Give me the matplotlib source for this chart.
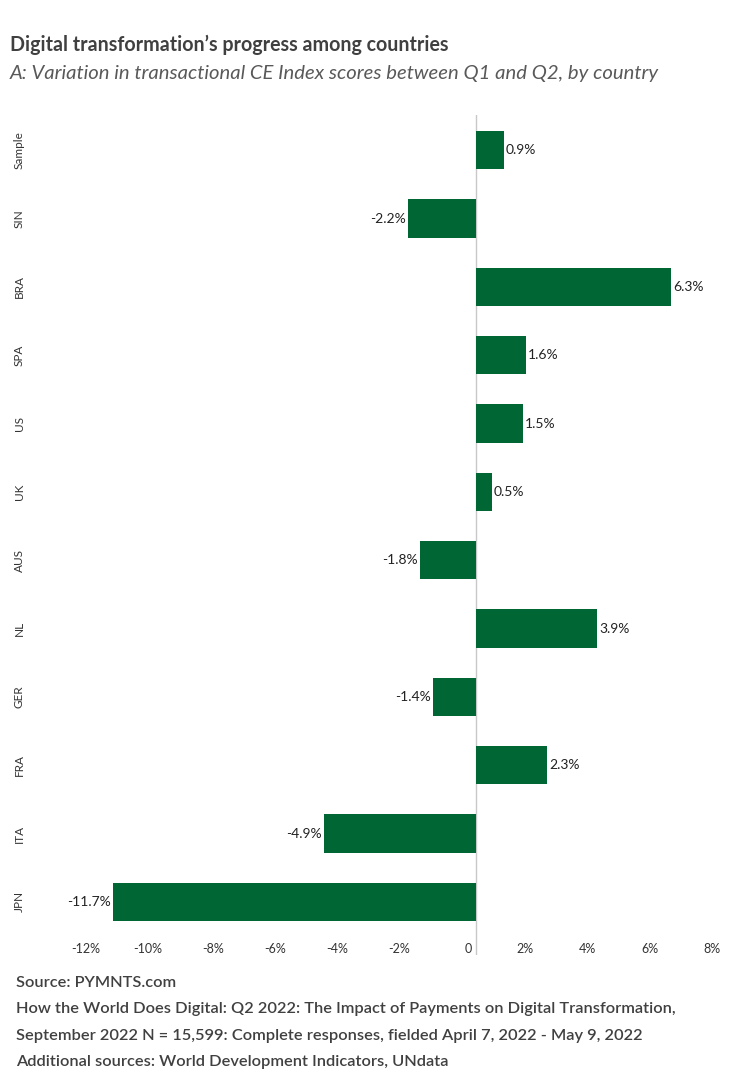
"""
Digital transformation's progress among countries:
change in transactional CE Index scores between Q1 and Q2, by country.
"""
import matplotlib
matplotlib.use("Agg")
import matplotlib.pyplot as plt
import matplotlib.transforms as mtransforms

plt.rcParams["font.family"] = ["Lato", "DejaVu Sans"]

COUNTRIES = ["Sample", "SIN", "BRA", "SPA", "US", "UK", "AUS", "NL", "GER", "FRA", "ITA", "JPN"]
CHANGE_PCT = [0.9, -2.2, 6.3, 1.6, 1.5, 0.5, -1.8, 3.9, -1.4, 2.3, -4.9, -11.7]
X_TICKS = [-12, -10, -8, -6, -4, -2, 0, 2, 4, 6, 8]
X_TICK_LABELS = ["-12%", "-10%", "-8%", "-6%", "-4%", "-2%", "0", "2%", "4%", "6%", "8%"]

TITLE = "Digital transformation\u2019s progress among countries"
SUBTITLE = "A: Variation in transactional CE Index scores between Q1 and Q2, by country"
FOOTER = [
    "Source: PYMNTS.com",
    "How the World Does Digital: Q2 2022: The Impact of Payments on Digital Transformation,",
    "September 2022 N = 15,599: Complete responses, fielded April 7, 2022 - May 9, 2022",
    "Additional sources: World Development Indicators, UNdata",
]

W, H = 743, 1069
GREEN = "#006633"
DARK = "#404040"

fig = plt.figure(figsize=(W / 100, H / 100), dpi=100)

# axes placed in pixel terms: x from -12% (104px) to 8% (724px), y from 115px to 955px
left, right, top, bottom = 104, 724, 115, 955
ax = fig.add_axes([left / W, 1 - bottom / H, (right - left) / W, (bottom - top) / H])

ypos = list(range(len(COUNTRIES)))
ax.barh(ypos, CHANGE_PCT, height=0.56, color=GREEN, zorder=3)
ax.axvline(0, color="#c8c8c8", linewidth=1, zorder=2)

for y, v in zip(ypos, CHANGE_PCT):
    label = f"{v:.1f}%"
    if v >= 0:
        ax.annotate(label, (v, y), xytext=(1.5, 0), textcoords="offset points",
                    ha="left", va="center", fontsize=10, color="#222222")
    else:
        ax.annotate(label, (v, y), xytext=(-1.5, 0), textcoords="offset points",
                    ha="right", va="center", fontsize=10, color="#222222")

ax.set_xlim(-12, 8)
ax.set_ylim(11.5 + 19 / 68.4, -0.5 - 1 / 68.4)

ax.set_xticks(X_TICKS)
ax.set_xticklabels(X_TICK_LABELS, fontsize=9, color="#333333")
ax.tick_params(axis="x", length=0, pad=-8.4)
offset = mtransforms.ScaledTranslation(-4 / 100, 0, fig.dpi_scale_trans)
for lbl in ax.get_xticklabels():
    lbl.set_horizontalalignment("right")
    lbl.set_transform(lbl.get_transform() + offset)

ax.set_yticks([])
for y, name in zip(ypos, COUNTRIES):
    ax.text(19 / W, y, name, transform=mtransforms.blended_transform_factory(fig.transFigure, ax.transData),
            rotation=90, ha="center", va="center", fontsize=8.5, color="#333333")

for s in ax.spines.values():
    s.set_visible(False)

fig.text(10 / W, 1 - 45 / H, TITLE, fontsize=14.1, fontweight="bold", color=DARK,
         ha="left", va="center")
fig.text(10 / W, 1 - 74 / H, SUBTITLE, fontsize=14.6, style="italic", color="#595959",
         ha="left", va="center")

for i, line in enumerate(FOOTER):
    fig.text(16 / W, 1 - (983 + i * 26.3) / H, line, fontsize=11.8, color=DARK,
             fontweight="semibold", ha="left", va="center")

fig.savefig("out.png", dpi=100)
